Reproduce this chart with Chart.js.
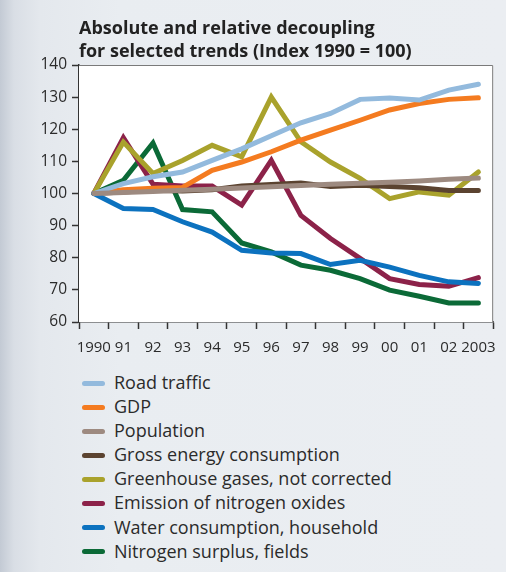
<!DOCTYPE html>
<html>
<head>
<meta charset="utf-8">
<script src="https://cdn.jsdelivr.net/npm/chart.js@4.4.1/dist/chart.umd.min.js"></script>
<style>
  html, body { margin: 0; padding: 0; }
  body {
    width: 506px; height: 572px; overflow: hidden; position: relative;
    background: linear-gradient(to right, #c3cad4 0px, #d9dee5 14px, #e4e8ed 40px, #e9edf1 120px, #ebeef2 100%);
    font-family: "Open Sans", "DejaVu Sans", sans-serif;
  }
  #wrap { position: absolute; left: 0; top: 0; width: 506px; height: 362px; }
  #legend { position: absolute; left: 0; top: 371px; }
  .item { position: relative; height: 24.1px; width: 440px; }
  .swatch { position: absolute; left: 82px; top: 9.5px; width: 23px; height: 5px; border-radius: 3px; }
  .label { position: absolute; left: 114px; top: -1px; line-height: 24px; font-size: 18px; color: #2b2b2b; white-space: nowrap; }
</style>
</head>
<body>
<div id="wrap"><canvas id="c" width="506" height="362"></canvas></div>
<div id="legend"></div>
<script>
const years = ["1990","91","92","93","94","95","96","97","98","99","00","01","02","2003"];
const titleLines = ["Absolute and relative decoupling", "for selected trends (Index 1990 = 100)"];

const roadTraffic  = [100, 103.1, 105.2, 106.7, 110.3, 113.9, 118.0, 122.0, 124.9, 129.3, 129.7, 129.1, 132.2, 134.0];
const gdp          = [100, 101.2, 101.6, 101.9, 107.2, 109.8, 113.0, 116.6, 119.7, 122.8, 126.0, 128.0, 129.3, 129.8];
const population   = [100, 100.3, 100.6, 101.0, 101.3, 101.7, 102.1, 102.5, 102.9, 103.2, 103.5, 103.9, 104.4, 104.8];
const grossEnergy  = [100, 100.5, 101.0, 100.8, 101.2, 102.3, 102.8, 103.3, 102.2, 102.6, 102.2, 101.8, 100.9, 100.9];
const greenhouse   = [100, 116.0, 106.2, 110.3, 115.0, 111.4, 130.0, 116.1, 109.8, 104.7, 98.4, 100.5, 99.5, 106.7];
const nox          = [100, 117.4, 102.9, 102.3, 102.3, 96.4, 110.3, 93.2, 86.0, 79.8, 73.5, 71.7, 71.1, 73.8];
const water        = [100, 95.3, 95.0, 91.2, 88.0, 82.3, 81.5, 81.3, 77.9, 79.2, 77.1, 74.5, 72.5, 72.0];
const nitrogen     = [100, 104.1, 115.7, 95.0, 94.3, 84.6, 81.8, 77.7, 76.1, 73.5, 69.9, 68.0, 65.9, 65.9];

const seriesNames  = ["Road traffic", "GDP", "Population", "Gross energy consumption",
                      "Greenhouse gases, not corrected", "Emission of nitrogen oxides",
                      "Water consumption, household", "Nitrogen surplus, fields"];
const seriesColors = ["#93badd", "#f47b20", "#9d8a80", "#5b4330", "#a9a22c", "#8c2249", "#0c72bf", "#0b6a37"];
const seriesOrder  = [3, 4, 1, 5, 6, 7, 2, 8];
const seriesData   = [roadTraffic, gdp, population, grossEnergy, greenhouse, nox, water, nitrogen];

const yTicks = { min: 60, max: 140, step: 10 };

const boxPlugin = {
  id: 'box',
  beforeDatasetsDraw(chart) {
    const a = chart.chartArea, ctx = chart.ctx;
    ctx.save();
    ctx.fillStyle = '#ffffff';
    ctx.fillRect(a.left, a.top, a.right - a.left, a.bottom - a.top);
    ctx.restore();
  },
  afterDraw(chart) {
    const a = chart.chartArea, ctx = chart.ctx;
    ctx.save();
    ctx.strokeStyle = '#7a7a7a';
    ctx.lineWidth = 1;
    ctx.beginPath();
    ctx.moveTo(a.left, a.top + 0.5);
    ctx.lineTo(a.right - 0.5, a.top + 0.5);
    ctx.lineTo(a.right - 0.5, a.bottom);
    ctx.stroke();
    ctx.restore();
  }
};

const chart = new Chart(document.getElementById('c'), {
  type: 'line',
  data: {
    labels: years,
    datasets: seriesNames.map((n, i) => ({
      label: n,
      data: seriesData[i],
      borderColor: seriesColors[i],
      backgroundColor: seriesColors[i],
      borderWidth: 5,
      pointRadius: 0,
      tension: 0,
      borderCapStyle: 'round',
      order: seriesOrder[i]
    }))
  },
  options: {
    responsive: false,
    devicePixelRatio: 1,
    animation: false,
    layout: { padding: { left: 0, right: 11, top: 0, bottom: 0 } },
    plugins: {
      legend: { display: false },
      tooltip: { enabled: false },
      title: {
        display: true,
        text: titleLines,
        align: 'start',
        fullSize: false,
        color: '#222222',
        font: { family: '"Open Sans", sans-serif', size: 18, weight: 'bold', lineHeight: '23px' },
        padding: { top: 17, bottom: 2 }
      }
    },
    scales: {
      x: {
        offset: true,
        grid: { display: true, offset: true, drawOnChartArea: false, tickLength: 7, color: '#333333', tickWidth: 1.5 },
        border: { display: true, color: '#333333', width: 1.5 },
        ticks: { color: '#2b2b2b', font: { family: '"Open Sans", sans-serif', size: 15 }, padding: 10, maxRotation: 0, autoSkip: false },
        afterFit(s) { s.height = 40; }
      },
      y: {
        min: yTicks.min, max: yTicks.max,
        grid: { display: true, drawOnChartArea: false, tickLength: 7, color: '#333333', tickWidth: 1.5 },
        border: { display: true, color: '#333333', width: 1.5 },
        ticks: { stepSize: yTicks.step, color: '#2b2b2b', font: { family: '"Open Sans", sans-serif', size: 15.5 }, padding: 5 },
        afterFit(s) { s.width = 79; }
      }
    }
  },
  plugins: [boxPlugin]
});

const legend = document.getElementById('legend');
seriesNames.forEach((n, i) => {
  const it = document.createElement('div'); it.className = 'item';
  const sw = document.createElement('div'); sw.className = 'swatch'; sw.style.background = seriesColors[i];
  const lb = document.createElement('div'); lb.className = 'label'; lb.textContent = n;
  it.appendChild(sw); it.appendChild(lb); legend.appendChild(it);
});
</script>
</body>
</html>
